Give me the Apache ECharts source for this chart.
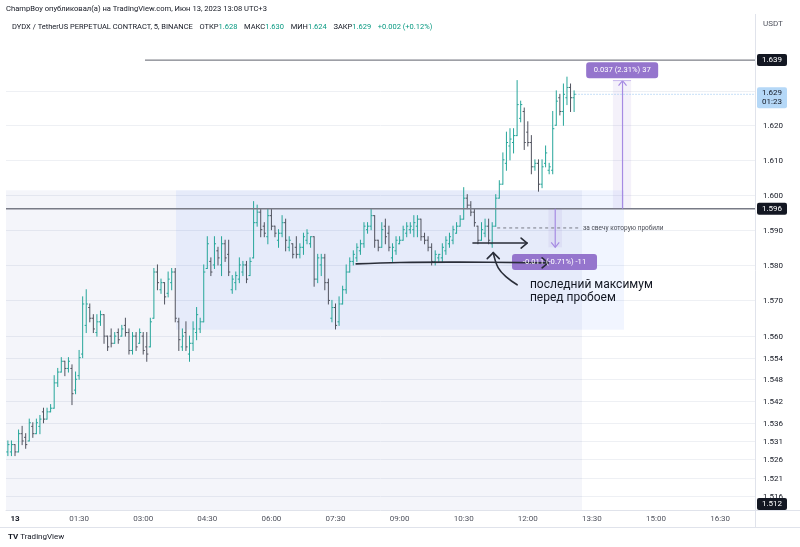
<!DOCTYPE html>
<html><head><meta charset="utf-8">
<script src="https://cdn.jsdelivr.net/npm/echarts@6/dist/echarts.min.js"></script>
<style>html,body{margin:0;padding:0;background:#fff}#c{width:800px;height:547px}</style>
</head><body><div id="c"></div>
<script>
// ---- data ----
const timeLabels = ['13','01:30','03:00','04:30','06:00','07:30','09:00','10:30','12:00','13:30','15:00','16:30'];
const timeLabelIdx = [0,18,36,54,72,90,108,126,144,162,180,198];
const priceTicks = [1.630,1.620,1.610,1.600,1.590,1.580,1.570,1.560,1.554,1.548,1.542,1.536,1.531,1.526,1.521,1.516];
const firstBar = -2; // 23:50 of the previous day, 5-minute bars
const opens = [1.528,1.528,1.530,1.528,1.533,1.532,1.531,1.535,1.533,1.535,1.539,1.537,1.539,1.540,1.547,1.550,1.553,1.551,1.551,1.545,
1.549,1.555,1.563,1.568,1.565,1.561,1.564,1.566,1.560,1.560,1.558,1.561,1.560,1.563,1.561,1.556,1.560,1.558,1.560,1.557,
1.557,1.565,1.578,1.573,1.575,1.572,1.575,1.578,1.564,1.557,1.561,1.555,1.558,1.561,1.562,1.564,1.579,1.581,1.580,1.584,
1.580,1.586,1.583,1.573,1.575,1.576,1.578,1.580,1.577,1.582,1.592,1.595,1.591,1.588,1.594,1.591,1.587,1.589,1.592,1.585,
1.586,1.585,1.583,1.585,1.587,1.586,1.588,1.576,1.580,1.582,1.575,1.565,1.568,1.564,1.569,1.573,1.578,1.581,1.582,1.584,
1.586,1.590,1.591,1.594,1.587,1.585,1.591,1.589,1.582,1.584,1.586,1.587,1.589,1.590,1.590,1.591,1.593,1.588,1.587,1.585,
1.581,1.582,1.582,1.584,1.586,1.587,1.589,1.591,1.593,1.599,1.597,1.595,1.591,1.587,1.589,1.591,1.586,1.591,1.599,1.603,
1.609,1.614,1.615,1.617,1.622,1.624,1.618,1.615,1.608,1.609,1.603,1.609,1.607,1.607,1.620,1.628,1.624,1.628,1.631,1.628];
const highs = [1.531,1.531,1.530,1.534,1.535,1.533,1.537,1.536,1.537,1.538,1.540,1.540,1.541,1.549,1.551,1.554,1.553,1.554,1.552,1.550,
1.556,1.571,1.573,1.569,1.566,1.566,1.567,1.566,1.560,1.562,1.561,1.562,1.563,1.565,1.562,1.561,1.561,1.562,1.561,1.561,
1.565,1.579,1.580,1.576,1.575,1.578,1.579,1.579,1.565,1.562,1.564,1.560,1.564,1.568,1.565,1.580,1.588,1.582,1.588,1.585,
1.588,1.587,1.587,1.577,1.578,1.582,1.581,1.581,1.582,1.598,1.597,1.596,1.592,1.596,1.596,1.591,1.590,1.594,1.593,1.588,
1.586,1.588,1.586,1.589,1.590,1.588,1.588,1.583,1.583,1.583,1.576,1.570,1.569,1.571,1.574,1.580,1.582,1.584,1.586,1.587,
1.592,1.592,1.596,1.594,1.587,1.592,1.593,1.591,1.586,1.588,1.588,1.591,1.592,1.592,1.594,1.594,1.593,1.589,1.588,1.586,
1.584,1.583,1.586,1.588,1.589,1.591,1.592,1.594,1.602,1.600,1.598,1.596,1.591,1.592,1.593,1.593,1.592,1.600,1.604,1.612,
1.618,1.619,1.619,1.633,1.627,1.625,1.621,1.617,1.610,1.610,1.610,1.614,1.609,1.624,1.630,1.629,1.632,1.634,1.632,1.630];
const lows = [1.527,1.527,1.527,1.528,1.530,1.529,1.531,1.532,1.533,1.533,1.536,1.537,1.539,1.540,1.546,1.550,1.549,1.550,1.541,1.544,
1.548,1.554,1.561,1.564,1.561,1.560,1.563,1.558,1.556,1.557,1.558,1.558,1.560,1.560,1.555,1.555,1.556,1.558,1.555,1.553,
1.557,1.565,1.573,1.572,1.569,1.571,1.573,1.564,1.556,1.556,1.556,1.553,1.556,1.559,1.561,1.564,1.579,1.577,1.579,1.580,
1.577,1.581,1.577,1.572,1.573,1.575,1.577,1.575,1.577,1.582,1.591,1.588,1.588,1.586,1.590,1.588,1.585,1.588,1.584,1.584,
1.582,1.582,1.582,1.583,1.586,1.585,1.574,1.575,1.577,1.573,1.569,1.564,1.562,1.563,1.569,1.572,1.578,1.580,1.581,1.583,
1.585,1.589,1.590,1.585,1.584,1.585,1.586,1.584,1.581,1.583,1.586,1.587,1.588,1.589,1.588,1.588,1.587,1.586,1.584,1.580,
1.580,1.581,1.581,1.583,1.585,1.586,1.589,1.591,1.593,1.596,1.594,1.591,1.586,1.587,1.588,1.586,1.585,1.591,1.599,1.603,
1.607,1.610,1.612,1.617,1.621,1.613,1.614,1.606,1.607,1.601,1.602,1.608,1.606,1.606,1.620,1.623,1.620,1.626,1.624,1.624];
const closes = [1.530,1.530,1.528,1.533,1.531,1.530,1.536,1.533,1.536,1.537,1.537,1.539,1.540,1.547,1.550,1.553,1.551,1.553,1.544,1.548,
1.554,1.569,1.569,1.565,1.562,1.564,1.566,1.560,1.557,1.558,1.560,1.559,1.562,1.561,1.556,1.560,1.557,1.561,1.556,1.555,
1.564,1.578,1.575,1.575,1.571,1.576,1.578,1.565,1.559,1.560,1.557,1.558,1.562,1.566,1.564,1.578,1.586,1.578,1.586,1.582,
1.586,1.582,1.578,1.576,1.577,1.580,1.580,1.576,1.581,1.592,1.595,1.590,1.589,1.594,1.591,1.589,1.589,1.592,1.587,1.587,
1.583,1.583,1.585,1.588,1.589,1.588,1.576,1.582,1.582,1.575,1.570,1.568,1.563,1.569,1.573,1.578,1.581,1.583,1.585,1.586,
1.591,1.591,1.594,1.587,1.585,1.590,1.588,1.585,1.585,1.587,1.587,1.590,1.591,1.591,1.592,1.593,1.588,1.587,1.585,1.581,
1.583,1.583,1.585,1.587,1.588,1.590,1.591,1.593,1.599,1.597,1.595,1.592,1.587,1.590,1.591,1.587,1.591,1.599,1.603,1.610,
1.615,1.616,1.617,1.626,1.626,1.615,1.615,1.608,1.609,1.603,1.608,1.612,1.608,1.619,1.627,1.624,1.629,1.631,1.628,1.629];

// ---- layout ----
const FONT = "Roboto, 'Liberation Sans', Arial, sans-serif";
const X_MIN = -2.53, X_MAX = 207.8, Y_MIN = 1.5122, Y_MAX = 1.6514;
const UP = '#26a69a', DOWN = '#50535e';

const bars = opens.map((o, i) => [firstBar + i, o, highs[i], lows[i], closes[i]]);
const zones = [
  [X_MIN, 1.6013, 159.2, Y_MIN, 'rgba(33,50,160,0.05)'],
  [45.2, 1.6013, 171.0, 1.5618, 'rgba(41,98,255,0.065)']
];

const chart = echarts.init(document.getElementById('c'));
chart.setOption({
  animation: false,
  grid: {left: 6, right: 45, top: 18, bottom: 37},
  xAxis: {
    type: 'value', min: X_MIN, max: X_MAX,
    splitLine: {show: false}, axisTick: {show: false},
    axisLine: {lineStyle: {color: '#e0e3eb'}},
    axisLabel: {
      customValues: timeLabelIdx, margin: 5, fontSize: 8, fontFamily: FONT, color: '#50535e',
      formatter: v => { const k = timeLabelIdx.indexOf(Math.round(v)); const t = timeLabels[k] || ''; return k === 0 ? '{b|' + t + '}' : t; },
      rich: {b: {fontWeight: 'bold', fontSize: 8, fontFamily: FONT, color: '#131722'}}
    }
  },
  yAxis: {type: 'log', logBase: 10, min: Y_MIN, max: Y_MAX, show: false},
  series: [
    { type: 'custom', name: 'grid', z: 1, clip: false, silent: true,
      data: priceTicks.map(v => [X_MIN, v]),
      renderItem: (params, api) => {
        const cs = params.coordSys; const y = Math.round(api.coord([X_MIN, api.value(1)])[1]) + 0.5;
        return {type: 'group', children: [
          {type: 'line', shape: {x1: cs.x, y1: y, x2: cs.x + cs.width, y2: y}, style: {stroke: '#eef0f4', lineWidth: 1}},
          {type: 'text', x: cs.x + cs.width + 8, y: y, style: {text: api.value(1).toFixed(3), fill: '#131722', font: '8px ' + FONT, verticalAlign: 'middle', align: 'left'}}
        ]};
      }
    },
    { type: 'custom', name: 'zones', z: 2, silent: true,
      data: zones,
      renderItem: (params, api) => {
        const a = api.coord([api.value(0), api.value(1)]); const b = api.coord([api.value(2), api.value(3)]);
        return {type: 'rect', shape: {x: a[0], y: a[1], width: b[0] - a[0], height: b[1] - a[1]}, style: {fill: zones[params.dataIndex][4]}};
      }
    },
    { type: 'custom', name: 'DYDXUSDT', z: 5, silent: true,
      data: bars,
      renderItem: (params, api) => {
        const t = api.value(0), o = api.value(1), c = api.value(4);
        const h = api.coord([t, api.value(2)]), l = api.coord([t, api.value(3)]);
        const po = api.coord([t, o]), pc = api.coord([t, c]);
        const col = c >= o ? UP : DOWN; const x = h[0];
        const st = {stroke: col, lineWidth: 1};
        return {type: 'group', children: [
          {type: 'line', shape: {x1: x, y1: h[1] - 0.5, x2: x, y2: l[1] + 0.5}, style: st},
          {type: 'line', shape: {x1: x - 1.6, y1: po[1], x2: x, y2: po[1]}, style: st},
          {type: 'line', shape: {x1: x, y1: pc[1], x2: x + 1.6, y2: pc[1]}, style: st}
        ]};
      }
    }
  ]
});

// ---- annotations (in data units, converted by the chart's scales) ----
const P = (x, v) => chart.convertToPixel({xAxisIndex: 0, yAxisIndex: 0}, [x, v]);
const gl = P(X_MIN, Y_MIN), gr = P(X_MAX, Y_MAX);
const L = gl[0], R = gr[0], T = gr[1], B = gl[1];
const g = [];
const txt = (x, y, text, o) => Object.assign({type: 'text', x: x, y: y, z: 100, style: Object.assign({text: text, font: '8px ' + FONT, fill: '#131722', verticalAlign: 'middle'}, o || {})});
const axisBox = (y, text, fill, color, h) => {
  h = h || 12;
  let top = y - h / 2; if (top + h > B) top = B - h;
  g.push({type: 'rect', z: 100, shape: {x: R + 2, y: top, width: 30, height: h, r: 2}, style: {fill: fill}});
  g.push(txt(R + 17, top + h / 2, text, {fill: color, align: 'center', lineHeight: 10}));
};

// horizontal lines
const hLines = [
  {price: 1.596, from: X_MIN, color: '#787b86', w: 1.5},
  {price: 1.639, from: 36.5, color: '#5d606b', w: 1}
];
hLines.forEach(h => {
  const a = P(h.from, h.price);
  g.push({type: 'line', z: 60, shape: {x1: a[0], y1: a[1], x2: R, y2: a[1]}, style: {stroke: h.color, lineWidth: h.w}});
  axisBox(a[1], h.price.toFixed(3), '#131722', '#fff');
});
axisBox(P(0, 1.512)[1], '1.512', '#131722', '#fff');

// price-range measurements
const meas = [
  {x: 170.6, from: 1.596, to: 1.633, band: [167.9, 173.0], label: '0.037 (2.31%) 37', lx: 170.5, ly: 1.636, lw: 72},
  {x: 151.7, from: 1.596, to: 1.585, band: [149.8, 153.6], label: '-0.011 (-0.71%) -11', lx: 151.5, ly: 1.5808, lw: 85}
];
meas.forEach(m => {
  const b1 = P(m.band[0], m.to), b2 = P(m.band[1], m.from);
  const yTop = Math.min(b1[1], b2[1]), yBot = Math.max(b1[1], b2[1]);
  g.push({type: 'rect', z: 70, shape: {x: b1[0], y: yTop, width: b2[0] - b1[0], height: yBot - yTop}, style: {fill: 'rgba(149,117,205,0.10)'}});
  const s = P(m.x, m.from), e = P(m.x, m.to);
  const dir = e[1] < s[1] ? 1 : -1;
  g.push({type: 'line', z: 71, shape: {x1: s[0], y1: s[1], x2: e[0], y2: e[1]}, style: {stroke: '#a68be3', lineWidth: 1.2}});
  g.push({type: 'polyline', z: 71, shape: {points: [[e[0] - 4, e[1] + 5 * dir], [e[0], e[1]], [e[0] + 4, e[1] + 5 * dir]]}, style: {stroke: '#a68be3', lineWidth: 1.2, fill: null}});
  if (dir === 1) g.push({type: 'line', z: 71, shape: {x1: b1[0], y1: e[1], x2: b2[0], y2: e[1]}, style: {stroke: '#c8b8ee', lineWidth: 1}});
  const c = P(m.lx, m.ly);
  g.push({type: 'rect', z: 72, shape: {x: c[0] - m.lw / 2, y: c[1] - 8, width: m.lw, height: 16, r: 3}, style: {fill: '#9575cd'}});
  g.push(txt(c[0], c[1], m.label, {fill: '#fff', align: 'center', font: '7.6px ' + FONT}));
});

// dashed line + note
const d1 = P(135.4, 1.5905), d2 = P(158.7, 1.5905);
g.push({type: 'line', z: 80, shape: {x1: d1[0], y1: d1[1], x2: d2[0], y2: d2[1]}, style: {stroke: '#787b86', lineWidth: 1, lineDash: [3, 3]}});
g.push(txt(P(159.5, 1.5905)[0], d1[1], 'за свечу которую пробили', {font: '6.5px ' + FONT, fill: '#4a4d57', align: 'left'}));

// hand-drawn arrows
const ink = {stroke: '#2a2e39', lineWidth: 1.6, lineCap: 'round', lineJoin: 'round', fill: null};
const arrowA = [[128.6, 1.5862], [143.8, 1.5862]];
const arrowB = [[95.8, 1.5803], [108.1, 1.5807], [125.0, 1.5808], [149.7, 1.5806]];
const arrowC = [[141.0, 1.5744], [138.2, 1.5764], [135.7, 1.5792], [134.3, 1.5835]];
[arrowA, arrowB, arrowC].forEach((pts, k) => {
  const px = pts.map(p => P(p[0], p[1]));
  g.push({type: 'polyline', z: 90, shape: {points: px, smooth: k === 0 ? 0 : 0.4}, style: ink});
  const e = px[px.length - 1];
  const head = k === 2 ? [[e[0] - 6, e[1] + 6], e, [e[0] + 6, e[1] + 6]] : [[e[0] - 6, e[1] - 5], e, [e[0] - 6, e[1] + 5]];
  g.push({type: 'polyline', z: 90, shape: {points: head}, style: ink});
});
const tp = P(144.6, 1.5762);
g.push({type: 'text', z: 100, x: tp[0], y: tp[1], style: {text: 'последний максимум\nперед пробоем', font: '12px ' + FONT, fill: '#131722', verticalAlign: 'top', lineHeight: 13}});

// current price
const cp = P(157.4, 1.629);
g.push({type: 'line', z: 80, shape: {x1: cp[0], y1: cp[1], x2: R, y2: cp[1]}, style: {stroke: '#8fc0f0', lineWidth: 1, lineDash: [1, 2]}});
g.push({type: 'rect', z: 100, shape: {x: R + 2, y: cp[1] - 7, width: 30, height: 21, r: 2}, style: {fill: '#b5d8f7'}});
g.push(txt(R + 17, cp[1] - 1.5, '1.629', {fill: '#131722', align: 'center'}));
g.push(txt(R + 17, cp[1] + 8, '01:23', {fill: '#131722', align: 'center'}));

// frame
g.push({type: 'line', z: 40, shape: {x1: R + 0.5, y1: 14, x2: R + 0.5, y2: 527}, style: {stroke: '#e0e3eb', lineWidth: 1}});
g.push({type: 'line', z: 40, shape: {x1: 0, y1: 527.5, x2: 800, y2: 527.5}, style: {stroke: '#e0e3eb', lineWidth: 1}});
g.push({type: 'line', z: 40, shape: {x1: R, y1: B + 0.5, x2: 800, y2: B + 0.5}, style: {stroke: '#e0e3eb', lineWidth: 1}});

// header / titles
g.push(txt(6, 9, 'ChampBoy опубликовал(а) на TradingView.com, Июн 13, 2023 13:08 UTC+3', {font: '7.6px ' + FONT}));
g.push({type: 'text', z: 100, x: 12, y: 27, style: {
  text: '{a|DYDX / TetherUS PERPETUAL CONTRACT, 5, BINANCE}  {a|ОТКР}{g|1.628}  {a|МАКС}{g|1.630}  {a|МИН}{g|1.624}  {a|ЗАКР}{g|1.629}  {g|+0.002 (+0.12%)}',
  verticalAlign: 'middle',
  rich: {a: {font: '7.5px ' + FONT, fill: '#131722'}, g: {font: '7.5px ' + FONT, fill: '#089981'}}
}});
g.push(txt(R + 8, 24, 'USDT', {font: '8px ' + FONT, fill: '#50535e'}));
g.push(txt(8, 537, '{t|TV} TradingView', {rich: {t: {font: 'bold 8px ' + FONT, fill: '#131722'}}, font: '8px ' + FONT}));

chart.setOption({graphic: g});
</script></body></html>
